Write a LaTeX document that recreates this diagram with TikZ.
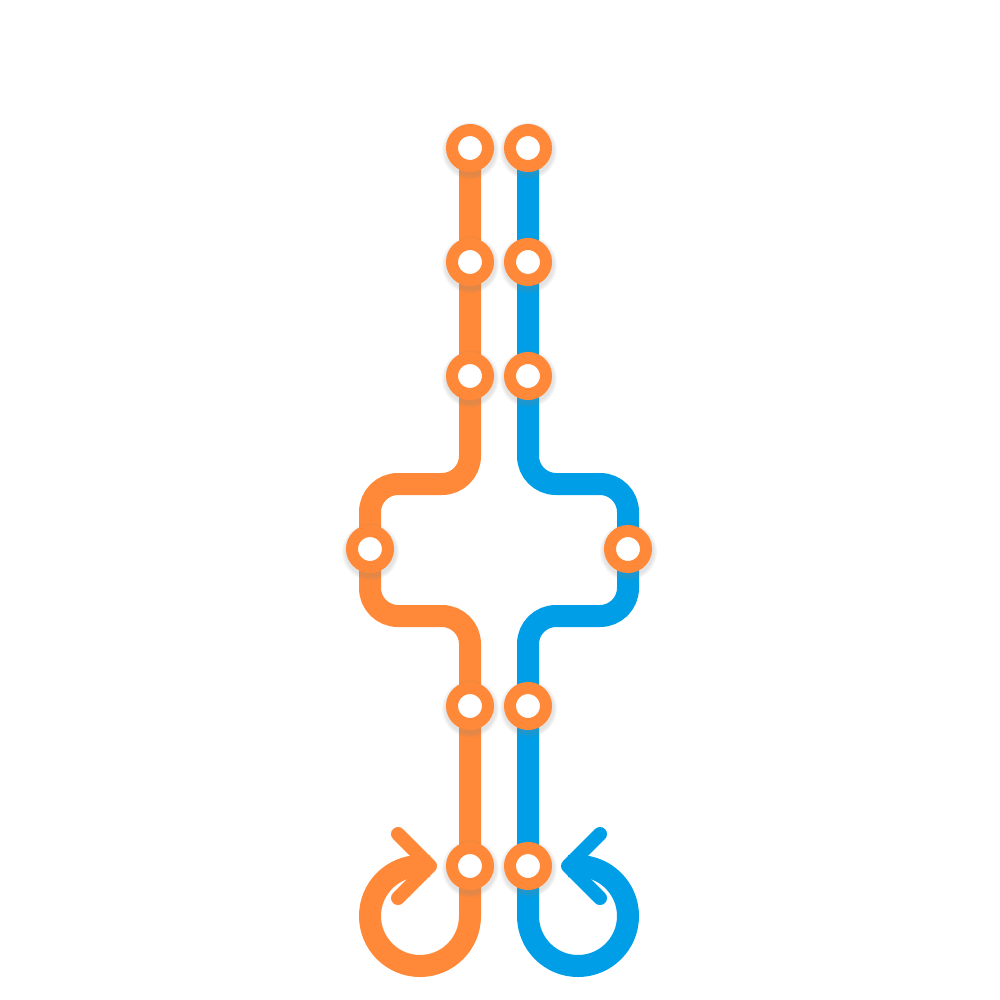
\documentclass[tikz,border=0pt]{standalone}
\usetikzlibrary{shadows,backgrounds}
\definecolor{lorange}{RGB}{255,137,56}
\definecolor{lblue}{RGB}{0,158,230}
\begin{document}
\begin{tikzpicture}[x=1pt,y=-1pt,
  station/.style={circle,inner sep=0pt,minimum size=36pt,draw=lorange,line width=12pt,fill=white,
    circular drop shadow={shadow xshift=0pt,shadow yshift=-1.5pt,opacity=0.22,shadow scale=1.62}},
  track/.style={line width=22pt,rounded corners=28pt},
  chev/.style={line width=14pt,line cap=round,line join=round}]
\useasboundingbox (0,0) rectangle (1000,1000);
% stations
\node[station] (o1) at (470,148) {};
\node[station] (o2) at (470,262) {};
\node[station] (o3) at (470,376) {};
\node[station] (o4) at (470,706) {};
\node[station] (o5) at (470,866) {};
\node[station] (b1) at (528,148) {};
\node[station] (b2) at (528,262) {};
\node[station] (b3) at (528,376) {};
\node[station] (b4) at (528,706) {};
\node[station] (b5) at (528,866) {};
\node[station] (ol) at (370,549) {};
\node[station] (br) at (628,549) {};
% corner coordinates
\coordinate (oc1) at (470,484);
\coordinate (oc2) at (370,484);
\coordinate (oc3) at (370,616);
\coordinate (oc4) at (470,616);
\coordinate (ol0) at (470,916);
\coordinate (otip) at (430,866);
\coordinate (oa1) at (398,834);
\coordinate (oa2) at (398,898);
\coordinate (bc1) at (528,484);
\coordinate (bc2) at (628,484);
\coordinate (bc3) at (628,616);
\coordinate (bc4) at (528,616);
\coordinate (bl0) at (528,916);
\coordinate (btip) at (568,866);
\coordinate (ba1) at (600,834);
\coordinate (ba2) at (600,898);
\begin{scope}[on background layer]
\draw[track,lorange] (o1.center) -- (o3.center) -- (oc1) -- (oc2) -- (ol.center) -- (oc3) -- (oc4) -- (o4.center) -- (o5.center) [sharp corners] -- (ol0) arc[start angle=0,end angle=-270,radius=50pt] -- (otip);
\draw[chev,lorange] (oa1) -- (otip) -- (oa2);
\draw[track,lblue] (b1.center) -- (b3.center) -- (bc1) -- (bc2) -- (br.center) -- (bc3) -- (bc4) -- (b4.center) -- (b5.center) [sharp corners] -- (bl0) arc[start angle=180,end angle=450,radius=50pt] -- (btip);
\draw[chev,lblue] (ba1) -- (btip) -- (ba2);
\end{scope}
\end{tikzpicture}
\end{document}
